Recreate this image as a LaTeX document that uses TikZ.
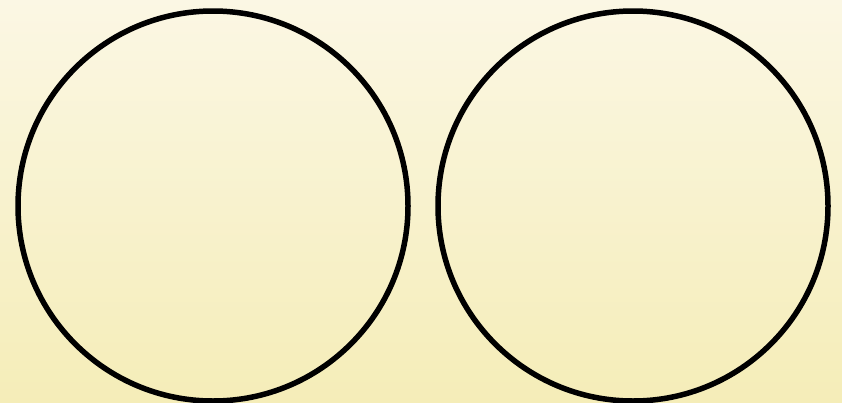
\documentclass[tikz,border=0pt]{standalone}
\begin{document}
\begin{tikzpicture}[x=1pt,y=-1pt,
  ring/.style={draw=black,line width=5.5pt}]
\shade[top color={rgb,255:red,251;green,247;blue,228},bottom color={rgb,255:red,245;green,237;blue,184}] (0,0) rectangle (842,402);
\useasboundingbox (0,0) rectangle (842,402);
\node[ring,circle,minimum size=390pt,inner sep=0pt] (left) at (213,206) {};
\node[ring,circle,minimum size=390pt,inner sep=0pt] (right) at (633,206) {};
\end{tikzpicture}
\end{document}
